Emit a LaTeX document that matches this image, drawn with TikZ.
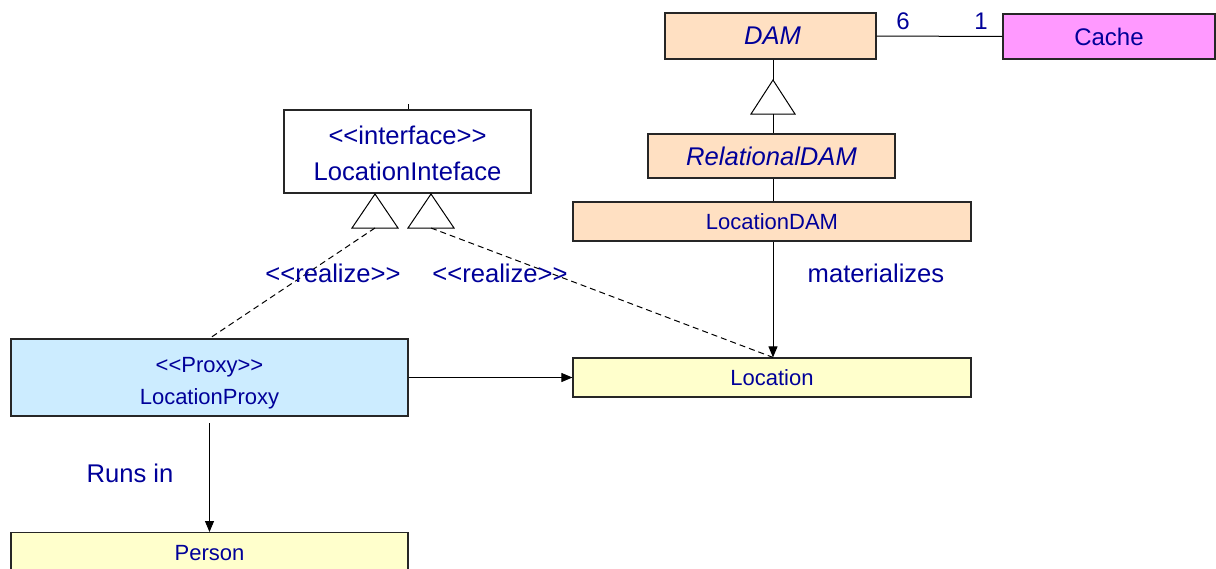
\documentclass[tikz,border=0pt]{standalone}
\usepackage{fontspec}
\setmainfont{Liberation Sans}
\usetikzlibrary{arrows.meta}
\definecolor{txt}{RGB}{0,0,153}
\definecolor{peach}{RGB}{255,224,194}
\definecolor{pinkc}{RGB}{255,153,255}
\definecolor{yel}{RGB}{255,255,204}
\definecolor{blu}{RGB}{204,236,255}
\tikzset{
  cls/.style={draw=black!85, line width=1.2pt, inner sep=0pt, text=txt, align=center},
  big/.style={font=\fontsize{25.6}{36}\selectfont},
  small/.style={font=\fontsize{22}{32}\selectfont},
  lbl/.style={text=txt, inner sep=0pt},
  conn/.style={line width=1pt},
  arr/.style={line width=1pt, -{Triangle[length=11pt,width=9pt]}},
  dashline/.style={line width=1pt, dash pattern=on 6pt off 4pt},
  tri/.style={draw, line width=1pt, fill=white},
}
\begin{document}
\begin{tikzpicture}[x=1pt,y=-1pt]
\useasboundingbox (0,0) rectangle (1216,568);
% boxes
\node[cls,big,fill=peach,minimum width=211pt,minimum height=46pt] (dam) at (770.5,36) {\itshape DAM\hspace*{-4pt}};
\node[cls,big,fill=pinkc,minimum width=212pt,minimum height=45pt,font=\fontsize{24}{30}\selectfont] (cache) at (1109,36.5) {Cache};
\node[cls,big,fill=peach,minimum width=247pt,minimum height=44pt] (rel) at (771.5,156) {\itshape RelationalDAM};
\node[cls,small,fill=peach,minimum width=398pt,minimum height=39pt] (ldam) at (772,221.5) {LocationDAM};
\node[cls,small,fill=yel,minimum width=398pt,minimum height=39pt] (loc) at (772,377.5) {Location};
\node[cls,big,fill=white,minimum width=247pt,minimum height=83pt] (iface) at (407.5,151.5) {\rule{0pt}{22pt}{<}{<}interface{>}{>}\\[0pt]LocationInteface};
\node[cls,small,fill=blu,minimum width=397pt,minimum height=77pt] (proxy) at (209.5,377.5) {\rule{0pt}{26pt}{<}{<}Proxy{>}{>}\\[0pt]LocationProxy};
\node[cls,small,fill=yel,minimum width=397pt,minimum height=50pt,anchor=north] (person) at (209.5,532) {};
\node[lbl,small] (persontxt) at (209.5,553) {Person};
% association DAM - Cache
\draw[conn] (dam.east) -- (cache.west);
\node[lbl,big,font=\fontsize{24}{30}\selectfont] (m6) at (903,21) {6};
\node[lbl,big,font=\fontsize{24}{30}\selectfont] (m1) at (981,21) {1};
% generalization DAM <- RelationalDAM
\coordinate (t1a) at (773,80);
\coordinate (t1b) at (773,114);
\draw[conn] (dam.south -| t1a) -- (t1a);
\draw[tri] (t1a) -- (751,114) -- (795,114) -- cycle;
\draw[conn] (t1b) -- (rel.north -| t1b);
\draw[conn] (rel.south -| t1b) -- (ldam.north -| t1b);
% materializes
\draw[arr] (ldam.south -| t1b) -- (loc.north -| t1b);
\node[lbl,big] (mat) at (876,273) {materializes};
% interface stub
\coordinate (stub) at (408,104);
\draw[line width=0.6pt] (stub) -- (iface.north -| stub);
% realization triangles
\coordinate (t2a) at (375,194);
\coordinate (t2b) at (375,228);
\coordinate (t3a) at (431,194);
\coordinate (t3b) at (431,228);
\draw[tri] (t2a) -- (352,228) -- (398,228) -- cycle;
\draw[tri] (t3a) -- (408,228) -- (454,228) -- cycle;
\draw[dashline] (t2b) -- (proxy.north);
\draw[dashline] (t3b) -- (loc.north -| t1b);
\node[lbl,big] (r1) at (333,273) {{<}{<}realize{>}{>}};
\node[lbl,big] (r2) at (500,273) {{<}{<}realize{>}{>}};
% proxy -> location
\draw[arr] (proxy.east) -- (loc.west);
% runs in
\coordinate (runstart) at (209.5,423);
\draw[arr] (runstart) -- (person.north);
\node[lbl,big] (runs) at (130,473) {Runs in};
\end{tikzpicture}
\end{document}
